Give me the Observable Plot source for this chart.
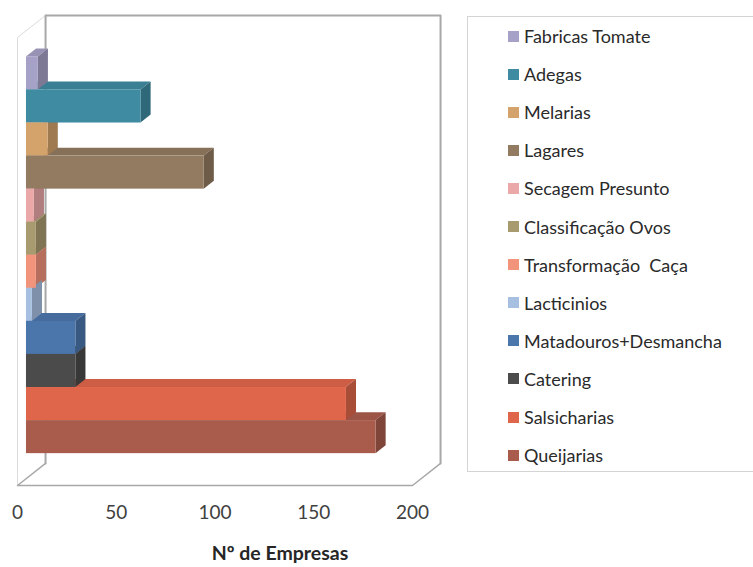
<!DOCTYPE html>
<html>
<head>
<meta charset="utf-8">
<script src="https://cdn.jsdelivr.net/npm/d3@7"></script>
<script src="https://cdn.jsdelivr.net/npm/@observablehq/plot@0.6"></script>
<style>
  body { margin: 0; background: #fff; font-family: Lato, "Open Sans", sans-serif; }
  #wrap { position: relative; width: 753px; height: 567px; overflow: hidden; }
  #chart { position: absolute; left: 0; top: 0; }
  #xtitle { position: absolute; left: 160px; width: 240px; top: 541px; text-align: center;
            font-weight: bold; font-size: 19.5px; color: #262626; }
  #legend { position: absolute; left: 467px; top: 16px; width: 320px; height: 456px;
            border: 1px solid #d4d4d4; box-sizing: border-box; }
  .item { position: absolute; left: 40px; height: 20px; display: flex; align-items: center;
          font-size: 18px; color: #2a2a2a; white-space: pre; }
  .sw { width: 11px; height: 11px; margin-right: 5px; flex: none; }
</style>
</head>
<body>
<div id="wrap">
  <div id="chart"></div>
  <div id="legend"></div>
  <div id="xtitle">Nº de Empresas</div>
</div>
<script>
// ---- data (legend order, top to bottom) ----
const categories = ["Fabricas Tomate", "Adegas", "Melarias", "Lagares", "Secagem Presunto",
  "Classificação Ovos", "Transformação  Caça", "Lacticinios", "Matadouros+Desmancha",
  "Catering", "Salsicharias", "Queijarias"];
const values = [6, 58, 11, 90, 4, 5, 5, 3, 25, 25, 162, 177];
const colors = ["#a6a1c6", "#3f8ba1", "#d4a26b", "#927b60", "#eaa8a8", "#a99b70",
  "#f2937b", "#a7c0e2", "#4b76ab", "#4b4b4b", "#e0664b", "#a95c4c"];
const xTicks = [0, 50, 100, 150, 200];

// ---- 3D projection parameters (in data units) ----
const xMax = 200;
const yDomain = [-0.75, 12.8];      // floor front .. wall top (rows)
const depthX = 14.2;                // depth offset in value units
const depthY = 0.667;               // depth offset in row units
const z1 = 0.32, z2 = 0.68;         // bar front / back depth fractions
const ox1 = depthX * z1, oy1 = depthY * z1, ox2 = depthX * z2, oy2 = depthY * z2;

const n = categories.length;
const bars = categories.map((c, k) => ({c, v: values[k], i: n - 1 - k, color: colors[k]}));

const tops = bars.flatMap(b => {
  const col = d3.color(b.color).darker(0.25).formatHex();
  return [
    {id: b.c, y: b.i + 1 + oy1, x1: ox1, x2: b.v + ox1, fill: col},
    {id: b.c, y: b.i + 1 + oy2, x1: ox2, x2: b.v + ox2, fill: col}
  ];
});
const sides = bars.flatMap(b => {
  const col = d3.color(b.color).darker(0.8).formatHex();
  return [
    {id: b.c, x: b.v + ox1, y1: b.i + oy1, y2: b.i + 1 + oy1, fill: col},
    {id: b.c, x: b.v + ox2, y1: b.i + oy2, y2: b.i + 1 + oy2, fill: col}
  ];
});

const [y0, y1] = yDomain;
const backWall = [
  {x: depthX, y: y0 + depthY}, {x: depthX, y: y1 + depthY},
  {x: xMax + depthX, y: y1 + depthY}, {x: xMax + depthX, y: y0 + depthY}
];
const floor = [
  {x: depthX, y: y0 + depthY}, {x: 0, y: y0}, {x: xMax, y: y0},
  {x: xMax + depthX, y: y0 + depthY}
];
const sideWall = [
  {x: 0, y: y0}, {x: 0, y: y1}, {x: depthX, y: y1 + depthY}
];

const chart = Plot.plot({
  width: 460,
  height: 530,
  marginLeft: 17,
  marginRight: 48,
  marginTop: 37,
  marginBottom: 45,
  x: {domain: [0, xMax], label: null},
  y: {domain: yDomain, axis: null},
  color: {type: "identity"},
  style: {fontFamily: "Lato, 'Open Sans', sans-serif", background: "transparent", overflow: "visible"},
  marks: [
    Plot.line(sideWall, {x: "x", y: "y", stroke: "#dcdcdc", strokeWidth: 1}),
    Plot.line(backWall, {x: "x", y: "y", stroke: "#a8a8a8", strokeWidth: 2}),
    Plot.line(floor, {x: "x", y: "y", stroke: "#a8a8a8", strokeWidth: 1.5}),
    Plot.areaX(tops, {y: "y", x1: "x1", x2: "x2", z: "id", fill: "fill"}),
    Plot.areaY(sides, {x: "x", y1: "y1", y2: "y2", z: "id", fill: "fill"}),
    Plot.rect(bars, {x1: () => ox1, x2: d => d.v + ox1, y1: d => d.i + oy1, y2: d => d.i + 1 + oy1, fill: "color"}),
    Plot.axisX(xTicks, {anchor: "bottom", tickSize: 0, tickPadding: 20, fontSize: 19, fill: "#404040", label: null})
  ]
});
document.getElementById("chart").appendChild(chart);

// ---- legend ----
const legend = document.getElementById("legend");
const step = 38.1, first = 19;
categories.forEach((c, k) => {
  const it = document.createElement("div");
  it.className = "item";
  it.style.top = (first + k * step - 10) + "px";
  const sw = document.createElement("span");
  sw.className = "sw";
  sw.style.background = colors[k];
  const t = document.createElement("span");
  t.textContent = c;
  it.appendChild(sw);
  it.appendChild(t);
  legend.appendChild(it);
});
</script>
</body>
</html>
